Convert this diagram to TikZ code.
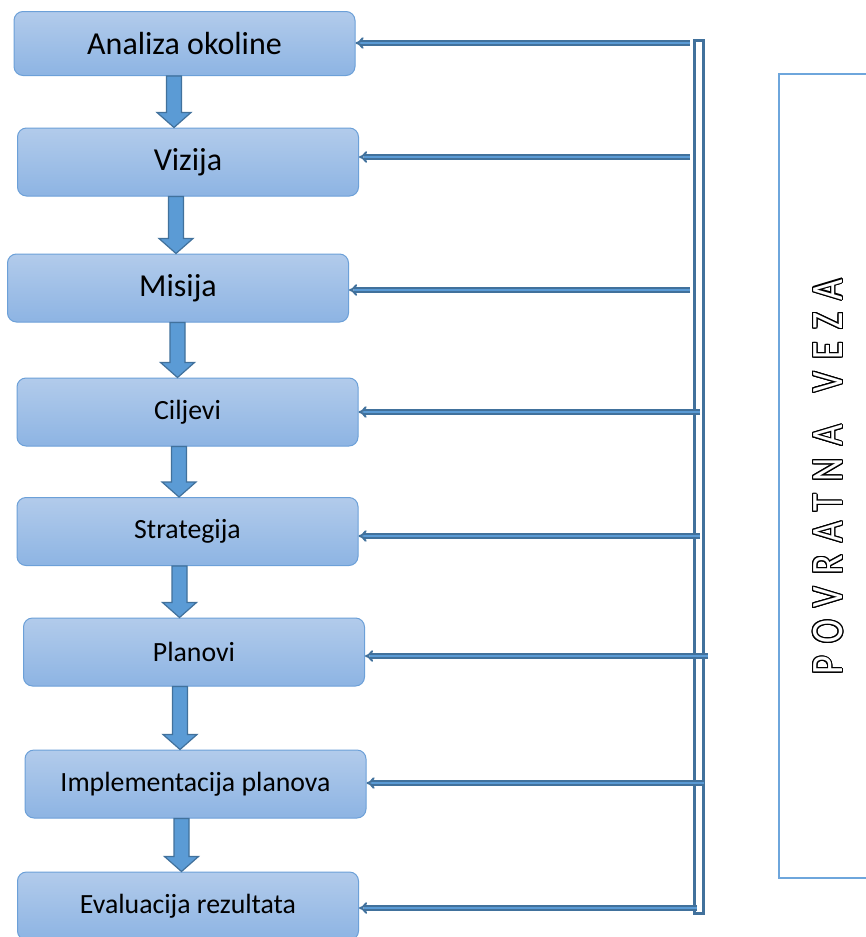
\documentclass[tikz,border=0pt]{standalone}
\usepackage{fontspec}
\setmainfont{Carlito}
\newfontfamily\vezafont[FakeStretch=0.8,LetterSpace=28]{Carlito}
\usepackage[copies]{contour}
\contourlength{1.1pt}
\usetikzlibrary{arrows.meta,calc}

\definecolor{boxtop}{RGB}{178,203,235}
\definecolor{boxbottom}{RGB}{141,180,227}
\definecolor{boxline}{RGB}{108,160,216}
\definecolor{arrowfill}{RGB}{91,155,213}
\definecolor{arrowline}{RGB}{65,113,156}
\definecolor{vezaline}{RGB}{110,166,220}

\tikzset{
  stepbox/.style={rounded corners=9pt, draw=boxline, line width=1pt,
    top color=boxtop, bottom color=boxbottom, minimum width=341pt,
    minimum height=68pt, inner sep=0pt, font=\fontsize{32}{37}\selectfont},
  smalltext/.style={font=\fontsize{27.8}{33}\selectfont},
  blockarrow/.style={fill=arrowfill, draw=arrowline, line width=1.2pt, line join=miter},
  feedback/.style={draw=arrowline, double=arrowfill, double distance=1.6pt,
    line width=2pt, -{Implies}},
  busbar/.style={draw=arrowline, line width=3pt, minimum width=9pt,
    minimum height=873pt, inner sep=0pt},
}

% block arrow going down: x position, upper box, lower box
\newcommand{\blockdown}[3]{%
  \filldraw[blockarrow] let \p1=(#2.south), \p2=(#3.north) in
    (#1pt-7.5pt,\y1) -- (#1pt+7.5pt,\y1) -- (#1pt+7.5pt,\y2+15pt)
    -- (#1pt+17pt,\y2+15pt) -- (#1pt,\y2) -- (#1pt-17pt,\y2+15pt)
    -- (#1pt-7.5pt,\y2+15pt) -- cycle;}

\begin{document}
\begin{tikzpicture}[x=1pt, y=-1pt]
    \useasboundingbox[fill=white] (0,0) rectangle (866,937);

    % steps
    \node[stepbox, minimum height=64pt] (analiza) at (184.5,43.5) {Analiza okoline};
    \node[stepbox] (vizija) at (188,162) {Vizija};
    \node[stepbox] (misija) at (178,288) {Misija};
    \node[stepbox, smalltext] (ciljevi) at (187.5,412) {Ciljevi};
    \node[stepbox, smalltext] (strategija) at (187.5,531.5) {Strategija};
    \node[stepbox, smalltext] (planovi) at (194,652) {Planovi};
    \node[stepbox, smalltext] (implementacija) at (195.5,784) {Implementacija planova};
    \node[stepbox, smalltext] (evaluacija) at (188,906) {Evaluacija rezultata};

    \blockdown{174}{analiza}{vizija}
    \blockdown{176}{vizija}{misija}
    \blockdown{177.5}{misija}{ciljevi}
    \blockdown{179}{ciljevi}{strategija}
    \blockdown{179.5}{strategija}{planovi}
    \blockdown{180}{planovi}{implementacija}
    \blockdown{181.5}{implementacija}{evaluacija}

    % feedback bus
    \node[busbar] (bus) at (699,477) {};
    \coordinate (fb1) at (690,43);
    \coordinate (fb2) at (690,157);
    \coordinate (fb3) at (690,290);
    \coordinate (fb4) at (700,412);
    \coordinate (fb5) at (700,536);
    \coordinate (fb6) at (708,656);
    \coordinate (fb7) at (704,783);
    \coordinate (fb8) at (697,908);
    \draw[feedback] (fb1) -- (fb1 -| analiza.east);
    \draw[feedback] (fb2) -- (fb2 -| vizija.east);
    \draw[feedback] (fb3) -- (fb3 -| misija.east);
    \draw[feedback] (fb4) -- (fb4 -| ciljevi.east);
    \draw[feedback] (fb5) -- (fb5 -| strategija.east);
    \draw[feedback] (fb6) -- (fb6 -| planovi.east);
    \draw[feedback] (fb7) -- (fb7 -| implementacija.east);
    \draw[feedback] (fb8) -- (fb8 -| evaluacija.east);

    % label box
    \node[draw=vezaline, line width=2pt, minimum width=120pt, minimum height=804pt,
      inner sep=0pt, anchor=north west] (vezabox) at (778,73) {};
    \node[rotate=90, inner sep=0pt] (veza) at (828.5,477)
      {\vezafont\fontsize{45}{50}\selectfont\color{white}\contour{black}{POVRATNA\hspace{12pt} VEZA}};
\end{tikzpicture}
\end{document}
